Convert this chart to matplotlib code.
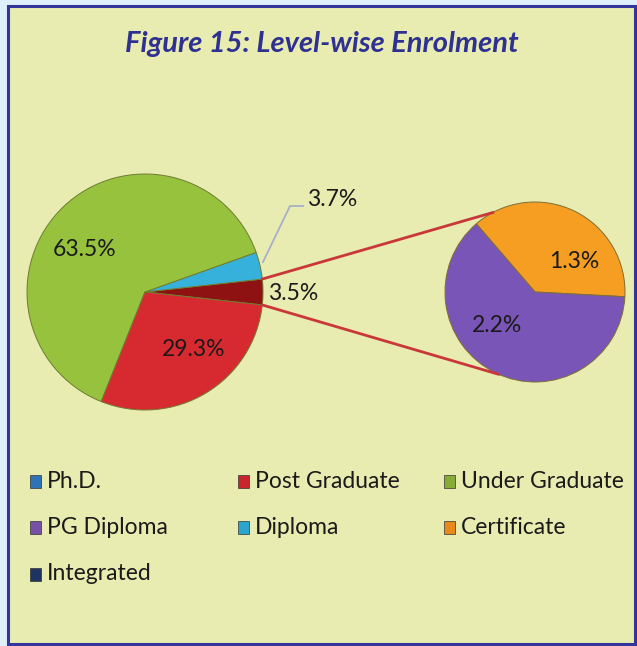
import matplotlib
matplotlib.use("Agg")
import matplotlib.pyplot as plt
from matplotlib.patches import Rectangle
import numpy as np

# ---------------- data ----------------
title = "Figure 15: Level-wise Enrolment"
main_labels = ["Other", "Diploma", "Under Graduate", "Post Graduate"]
main_values = [3.5, 3.7, 63.5, 29.3]
sub_labels = ["Certificate", "PG Diploma"]
sub_values = [1.3, 2.2]
legend_labels = ["Ph.D.", "Post Graduate", "Under Graduate",
                 "PG Diploma", "Diploma", "Certificate", "Integrated"]

# ---------------- style ----------------
FONT = ["Lato", "DejaVu Sans"]
plt.rcParams["font.family"] = FONT
main_colors = ["#8e1212", "#36b1dc", "#96c23e", "#d62a30"]
sub_colors = ["#f59e22", "#7a55b8"]
legend_colors = ["#2f73b5", "#c8262c", "#86ac37", "#7450a6", "#2aa6cc", "#e8891c", "#1d3460"]

W, H = 637, 646
fig = plt.figure(figsize=(W / 100, H / 100), dpi=100)
fig.patch.set_facecolor("#dff0fc")
ax = fig.add_axes([0, 0, 1, 1])


def Y(y):
    return H - y


ax.add_patch(Rectangle((8, Y(644)), 627, 638, facecolor="#e8ecb0",
                       edgecolor="#34359a", linewidth=2.2, zorder=0))

ax.text(322, Y(44), title, ha="center", va="center", fontsize=21,
        fontweight="bold", fontstyle="italic", color="#2e3192")

# main pie
c1 = (145, Y(292))
r1 = 118
start1 = -main_values[0] / sum(main_values) * 360 / 2
w1, _ = ax.pie(main_values, colors=main_colors, startangle=start1,
               center=c1, radius=r1, frame=True,
               wedgeprops=dict(edgecolor="#6f7c30", linewidth=0.7))

# sub pie
c2 = (535, Y(292))
r2 = 90
w2, _ = ax.pie(sub_values, colors=sub_colors, startangle=-3,
               center=c2, radius=r2, frame=True,
               wedgeprops=dict(edgecolor="#7d6e35", linewidth=0.7))

# connector lines from the "Other" wedge to the sub pie
t_top, t_bot = np.radians(w1[0].theta2), np.radians(w1[0].theta1)
p_top = (c1[0] + r1 * np.cos(t_top), c1[1] + r1 * np.sin(t_top))
p_bot = (c1[0] + r1 * np.cos(t_bot), c1[1] + r1 * np.sin(t_bot))
s_top, s_bot = np.radians(118), np.radians(-114)
q_top = (c2[0] + r2 * np.cos(s_top), c2[1] + r2 * np.sin(s_top))
q_bot = (c2[0] + r2 * np.cos(s_bot), c2[1] + r2 * np.sin(s_bot))
ax.plot([p_top[0], q_top[0]], [p_top[1], q_top[1]], color="#c9373a", lw=2, zorder=5)
ax.plot([p_bot[0], q_bot[0]], [p_bot[1], q_bot[1]], color="#c9373a", lw=2, zorder=5)

# leader for Diploma label
ax.plot([263, 290, 303], [Y(262), Y(206), Y(206)], color="#a9afc9", lw=1.3, zorder=5)

lab_fs = 16.5
tc = "#1a1a1a"
ax.text(85, Y(250), f"{main_values[2]}%", ha="center", va="center", fontsize=lab_fs, color=tc, zorder=6)
ax.text(194, Y(350), f"{main_values[3]}%", ha="center", va="center", fontsize=lab_fs, color=tc, zorder=6)
ax.text(307, Y(200), f"{main_values[1]}%", ha="left", va="center", fontsize=lab_fs, color=tc, zorder=6)
ax.text(268, Y(293), f"{main_values[0]}%", ha="left", va="center", fontsize=lab_fs, color=tc, zorder=6)
ax.text(574, Y(262), f"{sub_values[0]}%", ha="center", va="center", fontsize=lab_fs, color=tc, zorder=6)
ax.text(497, Y(326), f"{sub_values[1]}%", ha="center", va="center", fontsize=lab_fs, color=tc, zorder=6)

# legend (manual, row-wise)
col_x = [30, 238, 444]
row_y = [481, 527, 574]
for i, (lab, col) in enumerate(zip(legend_labels, legend_colors)):
    x = col_x[i % 3]
    y = row_y[i // 3]
    ax.add_patch(Rectangle((x, Y(y) - 6.5), 11, 13, facecolor=col,
                           edgecolor="#333333", linewidth=0.5, zorder=6))
    ax.text(x + 17, Y(y), lab, ha="left", va="center", fontsize=lab_fs, color=tc, zorder=6)

ax.set_xlim(0, W)
ax.set_ylim(0, H)
ax.set_aspect("auto")
ax.axis("off")

fig.savefig("out.png", dpi=100, facecolor=fig.get_facecolor())
